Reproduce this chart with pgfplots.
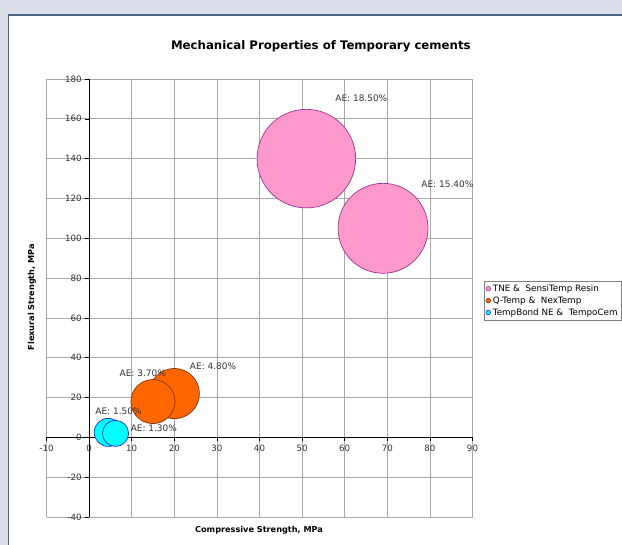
\documentclass[border=0pt]{standalone}
\usepackage{pgfplots}
\pgfplotsset{compat=1.18}
\usepackage{fontspec}
\setmainfont{DejaVu Sans}
\definecolor{bgframe}{HTML}{D9DEE8}
\definecolor{frameline}{HTML}{4B6584}
\definecolor{gridgray}{HTML}{A8A8A8}
\definecolor{tickgray}{HTML}{333333}
\definecolor{pinkfill}{HTML}{FF99CC}
\definecolor{pinkdraw}{HTML}{993399}
\definecolor{orangefill}{HTML}{FF6600}
\definecolor{orangedraw}{HTML}{7F3300}
\definecolor{cyanfill}{HTML}{00FFFF}
\definecolor{cyandraw}{HTML}{2A2AD0}
\definecolor{legendgray}{HTML}{808080}
\begin{document}
\begin{tikzpicture}
\useasboundingbox (0,0) rectangle (622bp,545bp);
\clip (0,0) rectangle (622bp,545bp);
\fill[bgframe] (0,0) rectangle (622bp,545bp);
\fill[white] (8.5bp,0) rectangle (622bp,530bp);
\draw[frameline, line width=1.5bp] (8.5bp,0) -- (8.5bp,530bp) -- (622bp,530bp);
\tikzset{lbl/.style={font=\fontsize{9}{10}\selectfont, text=tickgray, inner sep=0pt}}
\begin{axis}[
  at={(46.5bp,28bp)}, anchor=south west, scale only axis,
  width=426bp, height=438bp,
  xmin=-10, xmax=90, ymin=-40, ymax=180,
  enlargelimits=false,
  axis lines=middle,
  axis line style={-, black, line width=0.8bp},
  every inner x axis line/.append style={-},
  every inner y axis line/.append style={-},
  xtick={-10,0,...,90}, ytick={-40,-20,...,180},
  grid=major, grid style={gridgray, line width=0.7bp},
  tick style={black, line width=0.6bp}, major tick length=4bp, tick align=outside,
  ticklabel style={font=\fontsize{8.7}{10}\selectfont, text=tickgray},
  /pgf/number format/assume math mode=true,
  hide obscured x ticks=false, hide obscured y ticks=false,
  title={Mechanical Properties of Temporary cements},
  title style={at={(0.644,1.060)}, anchor=center, font=\bfseries\fontsize{11.8}{13}\selectfont},
  xlabel={Compressive Strength, MPa},
  ylabel={Flexural Strength, MPa},
  every axis x label/.style={at={(axis description cs:0.499,-0.030)}, anchor=center, font=\bfseries\fontsize{8.2}{9}\selectfont},
  every axis y label/.style={at={(axis description cs:-0.034,0.502)}, anchor=center, rotate=90, font=\bfseries\fontsize{8.2}{9}\selectfont},
  legend style={at={(1.0270,0.5388)}, anchor=north west, draw=legendgray, fill=white,
    font=\fontsize{8.8}{10}\selectfont, inner sep=1.5bp, row sep=-0.2bp, cells={anchor=west}},
  legend cell align=left,
  after end axis/.code={
    \node[lbl] at (axis cs:63.9,170.5) {AE: 18.50\%};
    \node[lbl] at (axis cs:84.1,127.3) {AE: 15.40\%};
    \node[lbl] at (axis cs:29.1,35.9) {AE: 4.80\%};
    \node[lbl] at (axis cs:12.6,32.4) {AE: 3.70\%};
    \node[lbl] at (axis cs:6.9,13.3) {AE: 1.50\%};
    \node[lbl] at (axis cs:15.2,4.7) {AE: 1.30\%};
  },
]
\addplot[scatter, only marks, mark=*,
  scatter/use mapped color={draw=pinkdraw, fill=pinkfill},
  mark options={line width=0.7bp},
  visualization depends on={11.5*sqrt(\thisrow{ae}) \as \rad},
  scatter/@pre marker code/.append style={/tikz/mark size=\rad},
  legend image code/.code={\draw[draw=pinkdraw, fill=pinkfill, line width=0.6bp] (0.12cm,0) circle (2.3bp);},
] table[x=x, y=y, row sep=\\] {
x y ae \\
51 140 18.5 \\
69 105 15.4 \\
};
\addlegendentry{TNE \& \ SensiTemp Resin}
\addplot[scatter, only marks, mark=*,
  scatter/use mapped color={draw=orangedraw, fill=orangefill},
  mark options={line width=0.7bp},
  visualization depends on={11.5*sqrt(\thisrow{ae}) \as \rad},
  scatter/@pre marker code/.append style={/tikz/mark size=\rad},
  legend image code/.code={\draw[draw=orangedraw, fill=orangefill, line width=0.6bp] (0.12cm,0) circle (2.3bp);},
] table[x=x, y=y, row sep=\\] {
x y ae \\
20 22 4.8 \\
15 18 3.7 \\
};
\addlegendentry{Q-Temp \& \ NexTemp}
\addplot[scatter, only marks, mark=*,
  scatter/use mapped color={draw=cyandraw, fill=cyanfill},
  mark options={line width=0.7bp},
  visualization depends on={11.5*sqrt(\thisrow{ae}) \as \rad},
  scatter/@pre marker code/.append style={/tikz/mark size=\rad},
  legend image code/.code={\draw[draw=cyandraw, fill=cyanfill, line width=0.6bp] (0.12cm,0) circle (2.3bp);},
] table[x=x, y=y, row sep=\\] {
x y ae \\
4.5 2.5 1.5 \\
6.2 2 1.3 \\
};
\addlegendentry{TempBond NE \& \ TempoCem}
\end{axis}
\end{tikzpicture}
\end{document}
